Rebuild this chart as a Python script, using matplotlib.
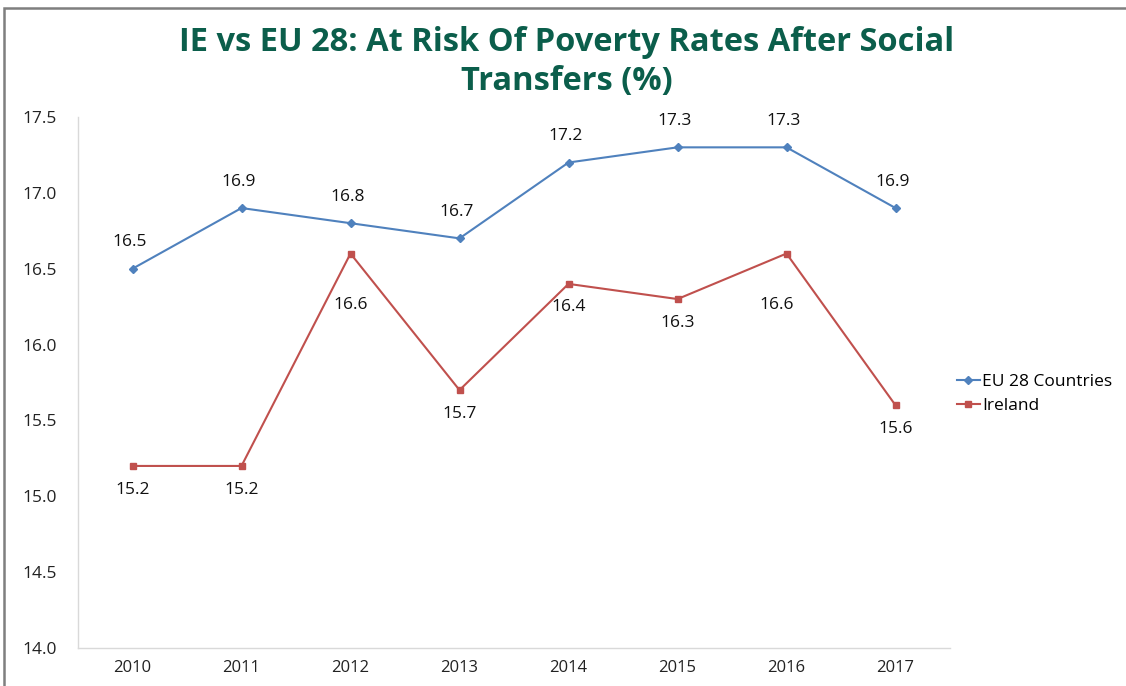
import matplotlib
matplotlib.use("Agg")
import matplotlib.pyplot as plt
from matplotlib.patches import Rectangle

years = ["2010", "2011", "2012", "2013", "2014", "2015", "2016", "2017"]
eu28 = [16.5, 16.9, 16.8, 16.7, 17.2, 17.3, 17.3, 16.9]
ireland = [15.2, 15.2, 16.6, 15.7, 16.4, 16.3, 16.6, 15.6]
yticks = [14.0, 14.5, 15.0, 15.5, 16.0, 16.5, 17.0, 17.5]

FONT = ["Open Sans", "DejaVu Sans"]
plt.rcParams['font.family'] = FONT

fig = plt.figure(figsize=(11.26, 6.86), dpi=100)
W, H = 1126, 686
ax = fig.add_axes([78 / W, 1 - 648 / H, (950 - 78) / W, (648 - 117) / H])

x = list(range(len(years)))
blue = "#4F81BD"
red = "#C0504D"
ax.plot(x, eu28, color=blue, lw=1.5, marker="D", ms=4, label="EU 28 Countries")
ax.plot(x, ireland, color=red, lw=1.5, marker="s", ms=5, label="Ireland")

ax.set_xlim(-0.5, len(years) - 0.5)
ax.set_ylim(14.0, 17.5)
ax.set_yticks(yticks)
ax.set_yticklabels([f"{v:.1f}" for v in yticks])
ax.set_xticks(x)
ax.set_xticklabels(years)
ax.tick_params(axis="y", length=0, pad=15, labelsize=12.5, colors="#222222")
ax.tick_params(axis="x", length=0, pad=9, labelsize=12, colors="#222222")
for s in ["top", "right"]:
    ax.spines[s].set_visible(False)
for s in ["left", "bottom"]:
    ax.spines[s].set_color("#D9D9D9")
    ax.spines[s].set_linewidth(1)

for i, v in enumerate(eu28):
    ax.annotate(f"{v:.1f}", (i, v), xytext=(-2, 19), textcoords="offset points",
                ha="center", va="center", fontsize=12.5, color="#111111")
ir_off = {2: (0, -37), 6: (-7, -37)}
for i, v in enumerate(ireland):
    dx, dy = ir_off.get(i, (0, -17))
    ax.annotate(f"{v:.1f}", (i, v), xytext=(dx, dy), textcoords="offset points",
                ha="center", va="center", fontsize=12.5, color="#111111")

fig.text(567 / W, 1 - 62 / H, "IE vs EU 28: At Risk Of Poverty Rates After Social\nTransfers (%)",
         ha="center", va="center", fontsize=23.5, fontweight="bold", color="#0B5E4B",
         linespacing=1.25)

leg = fig.legend(loc="upper left", bbox_to_anchor=(950 / W, 1 - 367 / H), frameon=False,
                 fontsize=12.5, handlelength=1.3, handletextpad=0.15, labelspacing=0.45,
                 borderaxespad=0)

fig.patches.append(Rectangle((4 / W, -0.05), 1.2, 1.05 - 8.5 / H, transform=fig.transFigure,
                             fill=False, edgecolor="#7F7F7F", lw=1.8))

fig.savefig("out.png", dpi=100)
